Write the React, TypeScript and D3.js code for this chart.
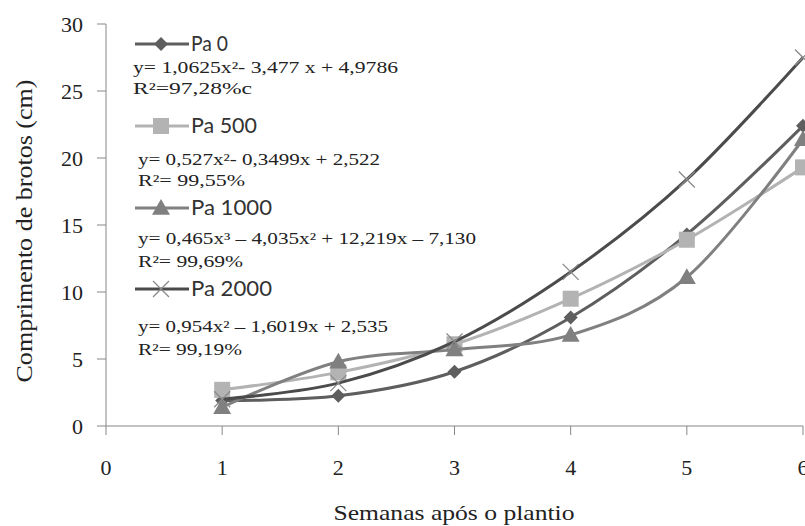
import React from "react";
import * as d3 from "d3";

const weeks = [1, 2, 3, 4, 5, 6];
const pa0 = [1.9, 2.25, 4.05, 8.1, 14.3, 22.4];
const pa500 = [2.7, 4.0, 6.1, 9.5, 13.9, 19.3];
const pa1000 = [1.4, 4.8, 5.7, 6.8, 11.1, 21.4];
const pa2000 = [2.0, 3.2, 6.3, 11.5, 18.4, 27.5];
const xTicks = [0, 1, 2, 3, 4, 5, 6];
const yTicks = [0, 5, 10, 15, 20, 25, 30];
const seriesNames = ["Pa 0", "Pa 500", "Pa 1000", "Pa 2000"];
const equations = [
  "y= 1,0625x²- 3,477 x + 4,9786",
  "y= 0,527x²- 0,3499x + 2,522",
  "y= 0,465x³ – 4,035x² + 12,219x – 7,130",
  "y= 0,954x² – 1,6019x + 2,535",
];
const r2Labels = ["R²=97,28%c", "R²= 99,55%", "R²= 99,69%", "R²= 99,19%"];

const W = 805;
const H = 526;
const x = d3.scaleLinear().domain([0, 6]).range([106, 803]);
const y = d3.scaleLinear().domain([0, 30]).range([426, 24]);

const lineGen = d3
  .line<number>()
  .x((_, i) => x(weeks[i]))
  .y((d) => y(d))
  .curve(d3.curveCatmullRom.alpha(0));

const SERIF = "Liberation Serif, Times New Roman, serif";
const SANS = "Lato, Open Sans, sans-serif";

const styles = [
  { color: "#5e5e5e", marker: "diamond" },
  { color: "#b3b3b3", marker: "square" },
  { color: "#808080", marker: "triangle" },
  { color: "#4b4b4b", marker: "x" },
];
const allData = [pa0, pa500, pa1000, pa2000];

function Marker({ type, cx, cy, color }: { type: string; cx: number; cy: number; color: string }) {
  if (type === "diamond") {
    const r = 7;
    return <path d={`M${cx},${cy - r}L${cx + r},${cy}L${cx},${cy + r}L${cx - r},${cy}Z`} fill={color} />;
  }
  if (type === "square") {
    const s = 8;
    return <rect x={cx - s} y={cy - s} width={2 * s} height={2 * s} fill={color} />;
  }
  if (type === "triangle") {
    const s = 9;
    return <path d={`M${cx},${cy - s}L${cx + s},${cy + s * 0.75}L${cx - s},${cy + s * 0.75}Z`} fill={color} />;
  }
  const s = 8;
  return (
    <path
      d={`M${cx - s},${cy - s}L${cx + s},${cy + s}M${cx - s},${cy + s}L${cx + s},${cy - s}`}
      stroke="#8a8a8a"
      strokeWidth={1.3}
      fill="none"
    />
  );
}

const legendRows = [
  { lineY: 44, nameW: 37, eqY: 73, eqX: 133, eqW: 265, rY: 94, rW: 119 },
  { lineY: 126, nameW: 66, eqY: 165, eqX: 138, eqW: 242, rY: 186, rW: 107 },
  { lineY: 208, nameW: 81, eqY: 244, eqX: 138, eqW: 338, rY: 267, rW: 105 },
  { lineY: 289, nameW: 81, eqY: 332, eqX: 138, eqW: 250, rY: 355, rW: 104 },
];

export default function App() {
  const axisColor = "#878787";
  return (
    <svg width={W} height={H} style={{ position: "absolute", left: 0, top: 0, background: "#fff" }}>
      <rect width={W} height={H} fill="#fff" />
      <line x1={x(0)} x2={x(0)} y1={y(30)} y2={y(0)} stroke={axisColor} strokeWidth={1} />
      <line x1={x(0)} x2={x(6)} y1={y(0)} y2={y(0)} stroke={axisColor} strokeWidth={1} />
      {yTicks.map((t) => (
        <g key={"y" + t}>
          <line x1={x(0) - 9} x2={x(0)} y1={y(t)} y2={y(t)} stroke={axisColor} />
          <text x={83} y={y(t)} dy="0.35em" textAnchor="end" style={{ fontFamily: SERIF, fontSize: 22 }} fill="#222">
            {t}
          </text>
        </g>
      ))}
      {xTicks.map((t) => (
        <g key={"x" + t}>
          <line x1={x(t)} x2={x(t)} y1={y(0)} y2={y(0) + 9} stroke={axisColor} />
          <text x={x(t)} y={475} textAnchor="middle" style={{ fontFamily: SERIF, fontSize: 22 }} fill="#222">
            {t}
          </text>
        </g>
      ))}
      <text
        x={454}
        y={520}
        textAnchor="middle"
        style={{ fontFamily: SERIF, fontSize: 21 }}
        fill="#222"
        textLength={241}
        lengthAdjust="spacingAndGlyphs"
      >
        Semanas após o plantio
      </text>
      <text
        transform={`translate(32,231) rotate(-90)`}
        textAnchor="middle"
        style={{ fontFamily: SERIF, fontSize: 23 }}
        fill="#222"
        textLength={303}
        lengthAdjust="spacingAndGlyphs"
      >
        Comprimento de brotos (cm)
      </text>
      {allData.map((vals, si) => (
        <g key={"s" + si}>
          <path d={lineGen(vals) || ""} fill="none" stroke={styles[si].color} strokeWidth={3} />
          {vals.map((v, i) => (
            <Marker key={i} type={styles[si].marker} cx={x(weeks[i])} cy={y(v)} color={styles[si].color} />
          ))}
        </g>
      ))}
      {legendRows.map((r, i) => (
        <g key={"l" + i}>
          <line x1={135} x2={189} y1={r.lineY} y2={r.lineY} stroke={styles[i].color} strokeWidth={3.2} />
          <Marker type={styles[i].marker} cx={161} cy={r.lineY} color={styles[i].color} />
          <text
            x={191}
            y={r.lineY + 7}
            style={{ fontFamily: SANS, fontSize: 21 }}
            fill="#333"
            textLength={r.nameW}
            lengthAdjust="spacingAndGlyphs"
          >
            {seriesNames[i]}
          </text>
          <text
            x={r.eqX}
            y={r.eqY}
            style={{ fontFamily: SERIF, fontSize: 16 }}
            fill="#222"
            textLength={r.eqW}
            lengthAdjust="spacingAndGlyphs"
          >
            {equations[i]}
          </text>
          <text
            x={r.eqX}
            y={r.rY}
            style={{ fontFamily: SERIF, fontSize: 16 }}
            fill="#222"
            textLength={r.rW}
            lengthAdjust="spacingAndGlyphs"
          >
            {r2Labels[i]}
          </text>
        </g>
      ))}
    </svg>
  );
}
